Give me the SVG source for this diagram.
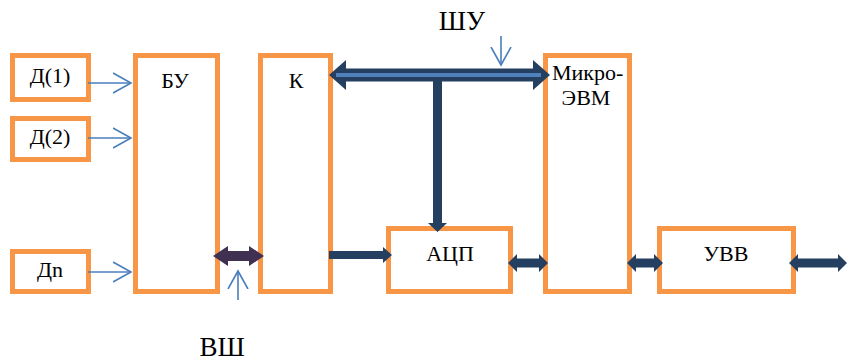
<svg xmlns="http://www.w3.org/2000/svg" width="847" height="361" viewBox="0 0 847 361">
<style>
.box{fill:#fff;stroke:#F79646;stroke-width:5}
.thin{stroke:#4A7EBB;stroke-width:1.6;fill:none}
.bus{fill:#243F60}
</style>
<defs>
<marker id="open" markerWidth="20" markerHeight="24" refX="18" refY="12" orient="auto" markerUnits="userSpaceOnUse">
<path d="M0,2 L18,12 L0,22" fill="none" stroke="#4A7EBB" stroke-width="1.6"/>
</marker>
</defs>
<rect width="847" height="361" fill="#fff"/>
<g font-family="Liberation Serif, DejaVu Serif, serif" font-size="22" fill="#000">
<g id="d1"><rect class="box" x="12.5" y="55.5" width="76" height="44"/><text x="50" y="83" text-anchor="middle">Д(1)</text></g>
<g id="d2"><rect class="box" x="12.5" y="118.5" width="76" height="41"/><text x="50" y="144" text-anchor="middle">Д(2)</text></g>
<g id="dn"><rect class="box" x="12.5" y="251.5" width="76" height="40"/><text x="50" y="277" text-anchor="middle">Дn</text></g>
<g id="bu"><rect class="box" x="135.5" y="55.5" width="82" height="236"/><text x="175" y="88" text-anchor="middle">БУ</text></g>
<g id="k"><rect class="box" x="260.5" y="55.5" width="70" height="236"/><text x="296" y="88" text-anchor="middle">К</text></g>
<g id="evm"><rect class="box" x="545.5" y="55.5" width="84" height="236"/><text x="552" y="80">Микро-</text><text x="586" y="105" text-anchor="middle">ЭВМ</text></g>
<g id="adc"><rect class="box" x="388.5" y="228.5" width="122" height="63"/><text x="450" y="261" text-anchor="middle">АЦП</text></g>
<g id="uvv"><rect class="box" x="659.5" y="228.5" width="134" height="63"/><text x="726" y="261" text-anchor="middle">УВВ</text></g>
<g id="labels" font-size="27">
<text x="462" y="30" text-anchor="middle">ШУ</text>
<text x="222" y="356" text-anchor="middle">ВШ</text>
</g>
</g>
<g id="connectors">
<line class="thin" x1="88" y1="83" x2="131" y2="83" marker-end="url(#open)"/>
<line class="thin" x1="88" y1="138" x2="131" y2="138" marker-end="url(#open)"/>
<line class="thin" x1="88" y1="272" x2="131" y2="272" marker-end="url(#open)"/>
<line class="thin" x1="238" y1="300" x2="238" y2="271" marker-end="url(#open)"/>
<line class="thin" x1="501" y1="36" x2="501" y2="65" marker-end="url(#open)"/>
<polygon class="bus" points="329,75 346,60 346,68.5 533,68.5 533,60 550,75 533,90 533,81.5 346,81.5 346,90"/>
<line x1="336" y1="75" x2="541" y2="75" stroke="#4F81BD" stroke-width="4"/>
<polygon class="bus" points="433,80 442,80 442,223 447,223 437.5,232 428,223 433,223"/>
<polygon fill="#403152" points="213,256 228,246 228,251 249,251 249,246 264,256 249,266 249,261 228,261 228,266"/>
<polygon class="bus" points="329,251 383,251 383,247 392,255 383,263 383,259 329,259"/>
<polygon class="bus" points="508,263 517,254 517,258.5 539,258.5 539,254 548,263 539,272 539,267.5 517,267.5 517,272"/>
<polygon class="bus" points="627,263 636,254 636,258.5 654,258.5 654,254 663,263 654,272 654,267.5 636,267.5 636,272"/>
<polygon class="bus" points="789,263 798,254 798,258.5 838,258.5 838,254 847,263 838,272 838,267.5 798,267.5 798,272"/>
</g>
</svg>
